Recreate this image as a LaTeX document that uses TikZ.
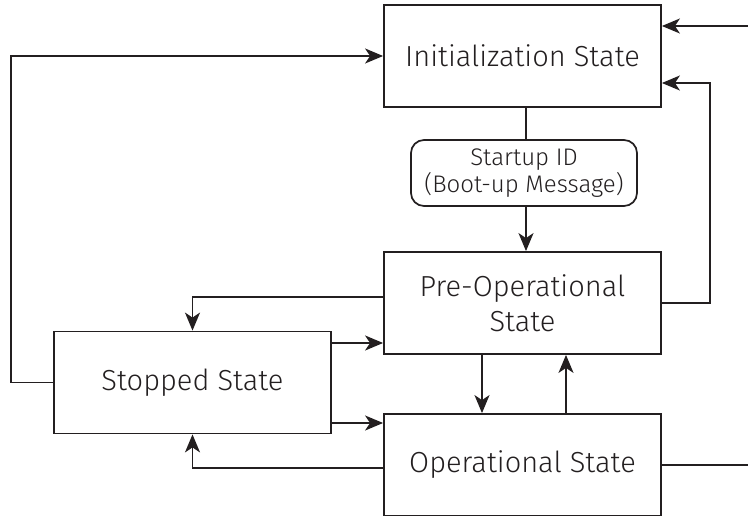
\documentclass[tikz,border=0pt]{standalone}
\usepackage{fontspec}
\setmainfont{Fira Sans}[UprightFont=* Light]
\usetikzlibrary{arrows.meta,calc}
\definecolor{ink}{HTML}{231F20}
\begin{document}
\begin{tikzpicture}[x=1pt,y=-1pt,
  line width=1.7pt, draw=ink,
  statebox/.style={draw=ink, line width=1.8pt, minimum width=277pt, minimum height=102pt, inner sep=0pt, align=center, font=\fontsize{29}{35}\selectfont, text=ink},
  msgbox/.style={draw=ink, line width=1.7pt, rounded corners=13pt, minimum width=226pt, minimum height=66pt, inner sep=0pt, align=center, font=\fontsize{24}{27}\selectfont, text=ink},
  arr/.style={-{Stealth[length=18pt,width=15pt,inset=5pt]}, draw=ink, line width=1.7pt},
  ln/.style={draw=ink, line width=1.7pt}]
\useasboundingbox (0,0) rectangle (748,516);
\node[statebox] (init) at (522.5,56) {Initialization State};
\node[msgbox] (start) at (524,173) {Startup ID\\(Boot-up Message)};
\node[statebox] (pre) at (522.5,303) {Pre-Operational\\State};
\node[statebox] (stop) at (192.5,382.5) {Stopped State};
\node[statebox] (op) at (522.5,465) {Operational State};
\coordinate (lc) at (11,0);
\coordinate (r1) at (748,26);
\coordinate (r2) at (710,83);
\coordinate (r3) at (748,0);
\coordinate (sa) at (331,343);
\coordinate (sb) at (331,423);
% init -> startup -> pre
\draw[ln] (init.south -| 526,0) -- (start.north -| 526,0);
\draw[arr] (start.south -| 526,0) -- (pre.north -| 526,0);
% stopped -> init
\draw[arr] (stop.west) -- (stop.west -| lc) |- (init.west);
% right top arrow
\draw[arr] (r1) -- (r1 -| init.east);
% pre -> init
\draw[arr] (pre.east) -| (r2) -- (r2 -| init.east);
% pre -> stopped
\draw[arr] ([yshift=6pt]pre.west) -| (stop.north);
% stopped -> pre
\draw[arr] (sa -| stop.east) -- (sa -| pre.west);
% stopped -> op
\draw[arr] (sb -| stop.east) -- (sb -| op.west);
% op -> stopped
\draw[arr] ([yshift=-3pt]op.west) -| (stop.south);
% pre -> op, op -> pre
\draw[arr] ([xshift=-40.5pt]pre.south) -- ([xshift=-40.5pt]op.north);
\draw[arr] ([xshift=43.5pt]op.north) -- ([xshift=43.5pt]pre.south);
% op -> right
\draw[ln] (op.east) -- (op.east -| r3);
\end{tikzpicture}
\end{document}
